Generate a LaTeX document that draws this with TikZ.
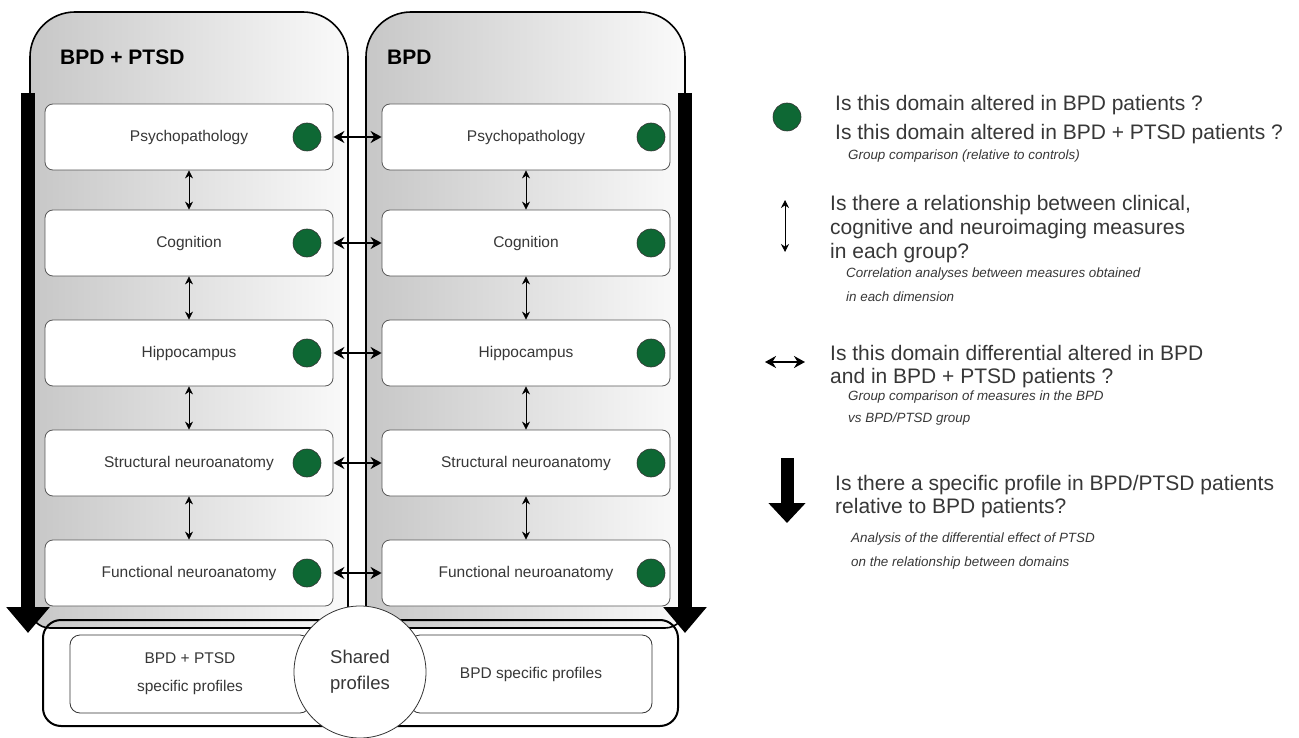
\documentclass[tikz,border=0pt]{standalone}
\usepackage{fontspec}
\setmainfont{Liberation Sans}
\usetikzlibrary{arrows.meta}

\definecolor{dotgreen}{RGB}{14,104,52}
\definecolor{txtgray}{RGB}{55,55,55}

\tikzset{
  panel/.style={draw=black, line width=1.6pt, left color=black!22, right color=black!2},
  domainbox/.style={draw=black!65, line width=0.8pt, fill=white, rounded corners=8pt,
    minimum width=288pt, minimum height=66pt, inner sep=0pt, text=txtgray,
    font=\fontsize{15.5}{18}\selectfont},
  profile/.style={draw=black!80, line width=0.8pt, fill=white, rounded corners=10pt,
    minimum height=78pt, inner sep=0pt, align=center, text=txtgray,
    font=\fontsize{15.5}{28}\selectfont},
  altered/.style={circle, draw=black!80, line width=0.6pt, fill=dotgreen,
    minimum size=28pt, inner sep=0pt},
  corr/.style={{Stealth[length=8pt,width=8pt]}-{Stealth[length=8pt,width=8pt]}, line width=0.8pt},
  diff/.style={{Stealth[length=11pt,width=12pt]}-{Stealth[length=11pt,width=12pt]}, line width=1.8pt},
  spec/.style={line width=14pt, -{Triangle[width=42pt,length=26pt]}},
  title/.style={anchor=west, inner sep=0pt, font=\fontsize{21}{24}\bfseries\selectfont},
  question/.style={anchor=north west, inner sep=0pt, align=left, text=txtgray},
  note/.style={anchor=north west, inner sep=0pt, align=left, text=txtgray,
    font=\fontsize{13.4}{24}\itshape\selectfont}
}

\begin{document}
\begin{tikzpicture}[x=1pt,y=-1pt]
  \def\xll{30}   % left panel
  \def\xlr{348}
  \def\xrl{366}  % right panel
  \def\xrr{685}
  \def\ytop{12}
  \def\ybot{628}

  \def\xlbox{189}
  \def\xrbox{526}
  \def\xldot{307}
  \def\xrdot{651}

  \def\ypsy{137}
  \def\ycog{243}
  \def\yhip{353}
  \def\ystr{463}
  \def\yfun{573}

  \useasboundingbox (0,0) rectangle (1299,738);

% group panels
  \draw[panel] (\xll,300) [rounded corners=45pt] -- (\xll,\ytop) -- (\xlr,\ytop) -- (\xlr,300)
    [rounded corners=20pt] -- (\xlr,\ybot) -- (\xll,\ybot) -- cycle;
  \draw[panel] (\xrl,300) [rounded corners=45pt] -- (\xrl,\ytop) -- (\xrr,\ytop) -- (\xrr,300)
    [rounded corners=20pt] -- (\xrr,\ybot) -- (\xrl,\ybot) -- cycle;

  \node[title] (ltitle) at (60,57) {BPD + PTSD};
  \node[title] (rtitle) at (387,57) {BPD};

% profiles
  \draw[line width=2pt, rounded corners=18pt] (43,620) rectangle (678,726);
  \node[profile, minimum width=240pt] (lprof) at (190,674) {BPD + PTSD\\specific profiles};
  \node[profile, minimum width=242pt] (rprof) at (531,674) {BPD specific profiles};
  \node[circle, draw=black!80, line width=0.8pt, fill=white, minimum size=132pt, inner sep=0pt,
    align=center, text=txtgray, font=\fontsize{18.5}{26}\selectfont] (shared) at (360,672) {Shared\\profiles};

% big arrows
  \coordinate (lstart) at (28,93);
  \coordinate (lend) at (28,633);
  \coordinate (rstart) at (685,93);
  \coordinate (rend) at (685,633);
  \draw[spec] (lstart) -- (lend);
  \draw[spec] (rstart) -- (rend);

% domains
  \node[domainbox] (lpsy) at (\xlbox,\ypsy) {Psychopathology};
  \node[domainbox] (lcog) at (\xlbox,\ycog) {Cognition};
  \node[domainbox] (lhip) at (\xlbox,\yhip) {Hippocampus};
  \node[domainbox] (lstr) at (\xlbox,\ystr) {Structural neuroanatomy};
  \node[domainbox] (lfun) at (\xlbox,\yfun) {Functional neuroanatomy};

  \node[domainbox] (rpsy) at (\xrbox,\ypsy) {Psychopathology};
  \node[domainbox] (rcog) at (\xrbox,\ycog) {Cognition};
  \node[domainbox] (rhip) at (\xrbox,\yhip) {Hippocampus};
  \node[domainbox] (rstr) at (\xrbox,\ystr) {Structural neuroanatomy};
  \node[domainbox] (rfun) at (\xrbox,\yfun) {Functional neuroanatomy};

  \node[altered] (lpsydot) at (\xldot,\ypsy) {};
  \node[altered] (lcogdot) at (\xldot,\ycog) {};
  \node[altered] (lhipdot) at (\xldot,\yhip) {};
  \node[altered] (lstrdot) at (\xldot,\ystr) {};
  \node[altered] (lfundot) at (\xldot,\yfun) {};
  \node[altered] (rpsydot) at (\xrdot,\ypsy) {};
  \node[altered] (rcogdot) at (\xrdot,\ycog) {};
  \node[altered] (rhipdot) at (\xrdot,\yhip) {};
  \node[altered] (rstrdot) at (\xrdot,\ystr) {};
  \node[altered] (rfundot) at (\xrdot,\yfun) {};

% relationships
  \draw[corr] (lpsy) -- (lcog);
  \draw[corr] (lcog) -- (lhip);
  \draw[corr] (lhip) -- (lstr);
  \draw[corr] (lstr) -- (lfun);
  \draw[corr] (rpsy) -- (rcog);
  \draw[corr] (rcog) -- (rhip);
  \draw[corr] (rhip) -- (rstr);
  \draw[corr] (rstr) -- (rfun);

  \draw[diff] (lpsy) -- (rpsy);
  \draw[diff] (lcog) -- (rcog);
  \draw[diff] (lhip) -- (rhip);
  \draw[diff] (lstr) -- (rstr);
  \draw[diff] (lfun) -- (rfun);

% legend
  \node[altered] (legdot) at (787,117) {};
  \node[question, font=\fontsize{21}{29}\selectfont] (q1) at (835,95)
    {Is this domain altered in BPD patients ?\\Is this domain altered in BPD + PTSD patients ?};
  \node[note] (n1) at (848,150) {Group comparison (relative to controls)};

  \coordinate (legcorrtop) at (785,200);
  \coordinate (legcorrbot) at (785,252);
  \draw[corr] (legcorrtop) -- (legcorrbot);
  \node[question, font=\fontsize{21}{24}\selectfont] (q2) at (830,195)
    {Is there a relationship between clinical,\\cognitive and neuroimaging measures\\in each group?};
  \node[note] (n2) at (846,268) {Correlation analyses between measures obtained\\in each dimension};

  \coordinate (legdiffl) at (765,362);
  \coordinate (legdiffr) at (805,362);
  \draw[diff] (legdiffl) -- (legdiffr);
  \node[question, font=\fontsize{21}{23}\selectfont] (q3) at (830,345)
    {Is this domain differential altered in BPD\\and in BPD + PTSD patients ?};
  \node[note, font=\fontsize{13.4}{22}\itshape\selectfont] (n3) at (848,391)
    {Group comparison of measures in the BPD\\vs BPD/PTSD group};

  \coordinate (legspectop) at (787,458);
  \coordinate (legspecbot) at (787,523);
  \draw[line width=13pt, -{Triangle[width=36pt,length=20pt]}] (legspectop) -- (legspecbot);
  \node[question, font=\fontsize{21}{23}\selectfont] (q4) at (835,475)
    {Is there a specific profile in BPD/PTSD patients\\relative to BPD patients?};
  \node[note] (n4) at (851,533) {Analysis of the differential effect of PTSD\\on the relationship between domains};
\end{tikzpicture}
\end{document}
